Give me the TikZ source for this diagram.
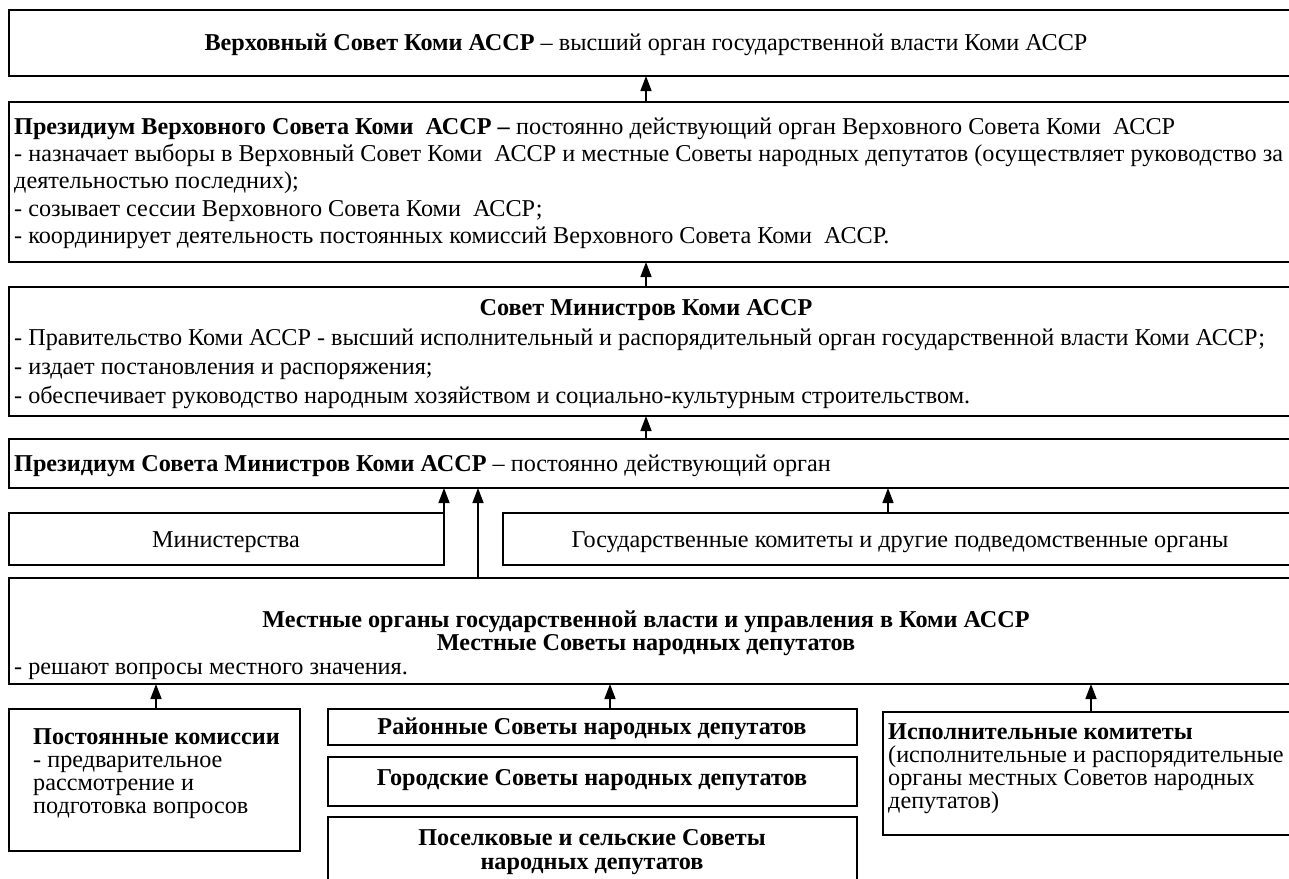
\documentclass[tikz,border=0pt]{standalone}
\usepackage{fontspec}
\setmainfont{Liberation Serif}
\usetikzlibrary{arrows.meta}
\begin{document}
\begin{tikzpicture}[x=1pt,y=-1pt,
  box/.style={draw, line width=2pt, anchor=north west, inner sep=0pt, outer sep=0pt},
  arr/.style={line width=1.5pt, -{Triangle[length=15pt,width=11pt]}},
  txt/.style={inner sep=0pt, yshift=-5pt, font=\fontsize{24.2}{28}\selectfont},
  lt/.style={txt, anchor=mid west},
  ct/.style={txt, anchor=mid},
]
\useasboundingbox (0,0) rectangle (1289,878);
% boxes
\node[box, minimum width=1291pt, minimum height=66pt]  (b1) at (9,10) {};
\node[box, minimum width=1291pt, minimum height=160pt] (b2) at (9,102) {};
\node[box, minimum width=1291pt, minimum height=129pt] (b3) at (9,287) {};
\node[box, minimum width=1291pt, minimum height=49pt]  (b4) at (9,439) {};
\node[box, minimum width=435pt, minimum height=52pt]   (min) at (9,513) {};
\node[box, minimum width=797pt, minimum height=52pt]   (gos) at (503,513) {};
\node[box, minimum width=1291pt, minimum height=106pt] (mest) at (9,578) {};
\node[box, minimum width=291pt, minimum height=142pt]  (post) at (9,709) {};
\node[box, minimum width=529pt, minimum height=36pt]   (rai) at (328,709) {};
\node[box, minimum width=529pt, minimum height=49pt]   (gor) at (328,757) {};
\node[box, minimum width=529pt, minimum height=80pt]   (pos) at (328,817) {};
\node[box, minimum width=417pt, minimum height=123pt]  (isp) at (883,712) {};
% texts
\node[ct] (t1) at (646,43) {\textbf{Верховный Совет Коми АССР} – высший орган государственной власти Коми АССР};
\node[lt] (t2a) at (14,127) {\textbf{Президиум Верховного Совета Коми\ \ АССР –} постоянно действующий орган Верховного Совета Коми\ \ АССР};
\node[lt] (t2b) at (14,154) {- назначает выборы в Верховный Совет Коми\ \ АССР и местные Советы народных депутатов (осуществляет руководство за};
\node[lt] (t2c) at (14,181) {деятельностью последних);};
\node[lt] (t2d) at (14,209) {- созывает сессии Верховного Совета Коми\ \ АССР;};
\node[lt] (t2e) at (14,236) {- координирует деятельность постоянных комиссий Верховного Совета Коми\ \ АССР.};
\node[ct] (t3a) at (646,308) {\textbf{Совет Министров Коми АССР}};
\node[lt] (t3b) at (14,338) {- Правительство Коми АССР - высший исполнительный и распорядительный орган государственной власти Коми АССР;};
\node[lt] (t3c) at (14,367) {- издает постановления и распоряжения;};
\node[lt] (t3d) at (14,396) {- обеспечивает руководство народным хозяйством и социально-культурным строительством.};
\node[lt] (t4) at (14,464) {\textbf{Президиум Совета Министров Коми АССР} – постоянно действующий орган};
\node[ct] (tmin) at (226,540) {Министерства};
\node[ct] (tgos) at (900,540) {Государственные комитеты и другие подведомственные органы};
\node[ct] (tm1) at (646,620) {\textbf{Местные органы государственной власти и управления в Коми АССР}};
\node[ct] (tm2) at (646,643) {\textbf{Местные Советы народных депутатов}};
\node[lt] (tm3) at (14,667) {- решают вопросы местного значения.};
\node[lt] (tp1) at (33,737) {\textbf{Постоянные комиссии}};
\node[lt] (tp2) at (33,760) {- предварительное};
\node[lt] (tp3) at (33,783) {рассмотрение и};
\node[lt] (tp4) at (33,806) {подготовка вопросов};
\node[ct] (tr) at (592,727) {\textbf{Районные Советы народных депутатов}};
\node[ct] (tg) at (592,778) {\textbf{Городские Советы народных депутатов}};
\node[ct] (ts1) at (592,838) {\textbf{Поселковые и сельские Советы}};
\node[ct] (ts2) at (592,862) {\textbf{народных депутатов}};
\node[lt] (ti1) at (888,732) {\textbf{Исполнительные комитеты}};
\node[lt] (ti2) at (888,755) {(исполнительные и распорядительные};
\node[lt] (ti3) at (888,778) {органы местных Советов народных};
\node[lt] (ti4) at (888,801) {депутатов)};
% arrow x positions
\coordinate (xa) at (646,0);
\coordinate (xm) at (444,0);
\coordinate (xl) at (478,0);
\coordinate (xg) at (888,0);
\coordinate (xp) at (156,0);
\coordinate (xr) at (610,0);
\coordinate (xi) at (1091,0);
% connectors
\draw[arr] (b2.north -| xa) -- (b1.south -| xa);
\draw[arr] (b3.north -| xa) -- (b2.south -| xa);
\draw[arr] (b4.north -| xa) -- (b3.south -| xa);
\draw[arr] (min.north east) -- (b4.south -| xm);
\draw[arr] (mest.north -| xl) -- (b4.south -| xl);
\draw[arr] (gos.north -| xg) -- (b4.south -| xg);
\draw[arr] (post.north -| xp) -- (mest.south -| xp);
\draw[arr] (rai.north -| xr) -- (mest.south -| xr);
\draw[arr] (isp.north -| xi) -- (mest.south -| xi);
\end{tikzpicture}
\end{document}
